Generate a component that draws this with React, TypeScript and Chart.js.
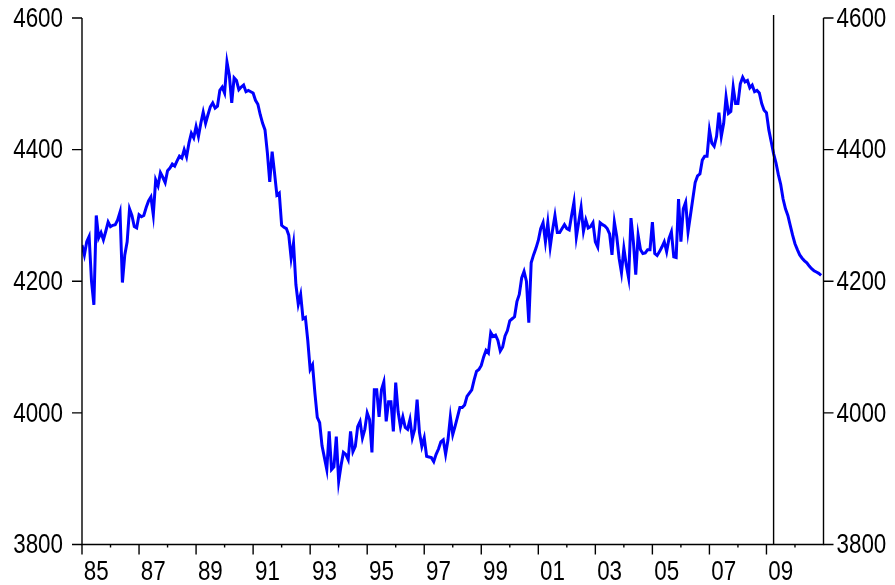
import React, { useEffect, useRef } from "react";
import { Chart, registerables } from "chart.js";

Chart.register(...registerables);

// Monthly values, Jan 1985 .. Dec 2010
const START_YEAR = 1985;
const values1985to1989 = [
  4255, 4240, 4260, 4268, 4200, 4164, 4300, 4266, 4274, 4263, 4276, 4290,
  4283, 4285, 4286, 4293, 4305, 4198, 4240, 4260, 4310, 4300, 4283, 4281,
  4301, 4298, 4300, 4312, 4322, 4328, 4301, 4354, 4345, 4365, 4358, 4350,
  4368, 4372, 4378, 4375, 4383, 4390, 4387, 4400, 4389, 4410, 4425, 4418,
  4435, 4420, 4440, 4457, 4440, 4453, 4465, 4471, 4463, 4466, 4490, 4495,
];
const values1990to1994 = [
  4486, 4533, 4513, 4471, 4509, 4505, 4491, 4495, 4498, 4488, 4490, 4488,
  4486, 4475, 4469, 4453, 4440, 4430, 4395, 4351, 4397, 4365, 4331, 4334,
  4285, 4282, 4280, 4270, 4235, 4258, 4195, 4165, 4180, 4143, 4145, 4110,
  4066, 4073, 4030, 3993, 3985, 3950, 3932, 3914, 3972, 3914, 3918, 3964,
  3896, 3920, 3940, 3937, 3929, 3972, 3941, 3949, 3979, 3987, 3962, 3975,
];
const values1995to1999 = [
  4000, 3990, 3940, 4035, 4035, 3994, 4035, 4047, 3987, 4017, 4017, 3972,
  4046, 4002, 3979, 3994, 3978, 3975, 3990, 3962, 3975, 4020, 3970, 3949,
  3962, 3934, 3933, 3932, 3926, 3937, 3945, 3956, 3959, 3937, 3959, 3994,
  3967, 3980, 3994, 4008, 4008, 4012, 4025, 4030, 4035, 4050, 4063, 4066,
  4072, 4085, 4095, 4091, 4122, 4116, 4118, 4110, 4094, 4100, 4117, 4125,
];
const values2000to2004 = [
  4140, 4143, 4146, 4169, 4180, 4205, 4215, 4200, 4137, 4228, 4240, 4250,
  4262, 4280, 4289, 4260, 4289, 4252, 4278, 4300, 4274, 4274, 4280, 4286,
  4280, 4278, 4300, 4320, 4267, 4290, 4312, 4276, 4293, 4281, 4283, 4289,
  4260, 4252, 4289, 4286, 4284, 4280, 4272, 4240, 4290, 4268, 4235, 4213,
  4250, 4225, 4205, 4296, 4260, 4210, 4270, 4248, 4242, 4243, 4248, 4248,
];
const values2005to2010 = [
  4290, 4242, 4239, 4245, 4252, 4260, 4245, 4265, 4275, 4237, 4236, 4325,
  4260, 4310, 4320, 4275, 4300, 4325, 4350, 4360, 4363, 4384, 4390, 4390,
  4430, 4410, 4405, 4420, 4456, 4420, 4440, 4480, 4455, 4458, 4495, 4470,
  4470, 4500, 4510, 4503, 4505, 4494, 4498, 4488, 4490, 4486, 4470, 4460,
  4456, 4430, 4412, 4394, 4380, 4362, 4347, 4325, 4310, 4300, 4285, 4270,
  4257, 4248, 4240, 4235, 4231, 4228, 4223, 4219, 4216, 4214, 4212, 4209,
];

const yTicks = [3800, 4000, 4200, 4400, 4600];
const xMin = 1985;
const xMax = 2011;
const tickYears = Array.from({ length: 26 }, (_, i) => 1985 + i);
const labelYears = [1985, 1987, 1989, 1991, 1993, 1995, 1997, 1999, 2001, 2003, 2005, 2007, 2009];
const forecastStart = 2009.25;

const FONT = '28px "Liberation Sans", Arial, sans-serif';
const CONDENSE = 0.8;

const allValues = [
  ...values1985to1989,
  ...values1990to1994,
  ...values1995to1999,
  ...values2000to2004,
  ...values2005to2010,
];
const points = allValues.map((v, i) => ({ x: START_YEAR + i / 12, y: v }));

function drawText(ctx: CanvasRenderingContext2D, text: string, x: number, y: number, align: CanvasTextAlign) {
  ctx.save();
  ctx.translate(x, y);
  ctx.scale(CONDENSE, 1);
  ctx.textAlign = align;
  ctx.textBaseline = "middle";
  ctx.fillText(text, 0, 0);
  ctx.restore();
}

const axesPlugin = {
  id: "customAxes",
  afterDraw(chart: any) {
    const { ctx, chartArea: a, scales } = chart;
    const xs = scales.x;
    const ys = scales.y;
    ctx.save();
    ctx.strokeStyle = "#000";
    ctx.lineWidth = 1.4;
    ctx.beginPath();
    ctx.moveTo(a.left, a.top);
    ctx.lineTo(a.left, a.bottom);
    ctx.lineTo(a.right, a.bottom);
    ctx.lineTo(a.right, a.top);
    ctx.stroke();

    ctx.font = FONT;
    ctx.fillStyle = "#000";
    for (const v of yTicks) {
      const py = ys.getPixelForValue(v);
      ctx.beginPath();
      ctx.moveTo(a.left - 10, py);
      ctx.lineTo(a.left, py);
      ctx.moveTo(a.right, py);
      ctx.lineTo(a.right + 10, py);
      ctx.stroke();
      drawText(ctx, String(v), a.left - 19, py + 1, "right");
      drawText(ctx, String(v), a.right + 13, py + 1, "left");
    }

    for (const yr of tickYears) {
      const px = xs.getPixelForValue(yr);
      const len = yr % 2 === 1 ? 10 : 3;
      ctx.beginPath();
      ctx.moveTo(px, a.bottom);
      ctx.lineTo(px, a.bottom + len);
      ctx.stroke();
    }
    for (const yr of labelYears) {
      const px = xs.getPixelForValue(yr + 0.5);
      drawText(ctx, String(yr).slice(2), px, a.bottom + 28, "center");
    }

    const fx = xs.getPixelForValue(forecastStart);
    ctx.beginPath();
    ctx.moveTo(fx, a.top - 3);
    ctx.lineTo(fx, a.bottom);
    ctx.stroke();
    ctx.restore();
  },
};

export default function App() {
  const ref = useRef<HTMLCanvasElement | null>(null);
  useEffect(() => {
    if (!ref.current) return;
    const chart = new Chart(ref.current, {
      type: "line",
      data: {
        datasets: [
          {
            data: points,
            borderColor: "#0000ff",
            borderWidth: 3,
            pointRadius: 0,
            tension: 0,
            fill: false,
          },
        ],
      },
      options: {
        animation: false,
        responsive: false,
        layout: { padding: { left: 82, right: 71.5, top: 18, bottom: 40.5 } },
        plugins: { legend: { display: false }, tooltip: { enabled: false }, title: { display: false } },
        scales: {
          x: { type: "linear", min: xMin, max: xMax, display: false },
          y: { type: "linear", min: 3800, max: 4600, display: false },
        },
      },
      plugins: [axesPlugin],
    });
    return () => chart.destroy();
  }, []);
  return (
    <div style={{ position: "fixed", left: 0, top: 0, width: 895, height: 585, background: "#fff" }}>
      <canvas ref={ref} width={895} height={585} style={{ display: "block" }} />
    </div>
  );
}
